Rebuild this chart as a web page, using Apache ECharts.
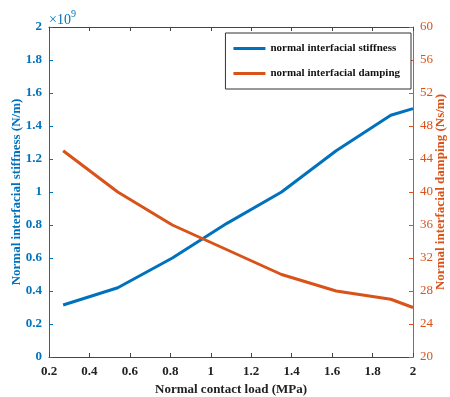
<!DOCTYPE html>
<html><head><meta charset="utf-8">
<script src="https://cdn.jsdelivr.net/npm/echarts@6/dist/echarts.min.js"></script>
<style>html,body{margin:0;padding:0;background:#fff}#c{width:450px;height:397px}</style>
</head><body><div id="c"></div>
<script>
const loads = [0.27, 0.54, 0.81, 1.08, 1.35, 1.62, 1.89, 2.0];
const stiffness = [0.315, 0.42, 0.60, 0.81, 1.00, 1.25, 1.465, 1.505]; // x1e9 N/m
const damping = [45, 40, 36, 33, 30, 28, 27, 26]; // Ns/m
const xTicks = [0.2, 2, 0.2];
const leftTicks = [0, 2, 0.2];
const rightTicks = [20, 60, 4];

const FONT = 'Liberation Serif';
const BLUE = '#0072BD', ORANGE = '#D95319';
const chart = echarts.init(document.getElementById('c'));
const fmt = v => String(Math.round(v * 10) / 10);
chart.setOption({
  animation: false,
  textStyle: { fontFamily: FONT },
  grid: { left: 49, right: 37, top: 27, bottom: 40, containLabel: false, outerBoundsMode: 'none' },
  legend: {
    right: 39, top: 33, orient: 'vertical', itemWidth: 32, itemHeight: 3, itemGap: 14,
    padding: [10, 11, 10, 8],
    borderColor: '#333', borderWidth: 1, backgroundColor: '#fff', borderRadius: 0,
    textStyle: { fontFamily: FONT, fontWeight: 'bold', fontSize: 11, color: '#111' },
    icon: 'rect',
    data: ['normal interfacial stiffness', 'normal interfacial damping']
  },
  xAxis: [{
    type: 'value', min: xTicks[0], max: xTicks[1], interval: xTicks[2],
    axisLine: { lineStyle: { color: '#444', width: 1 } },
    axisTick: { inside: true, length: 4, lineStyle: { color: '#444' } },
    splitLine: { show: false },
    axisLabel: { formatter: fmt, color: '#222', fontSize: 13, fontWeight: 'bold', fontFamily: FONT, margin: 8 },
    name: 'Normal contact load (MPa)', nameLocation: 'middle', nameGap: 23,
    nameTextStyle: { color: '#222', fontSize: 13, fontWeight: 'bold', fontFamily: FONT }
  }, {
    type: 'value', position: 'top', min: xTicks[0], max: xTicks[1], interval: xTicks[2],
    axisLine: { lineStyle: { color: '#444', width: 1 } },
    axisTick: { inside: true, length: 4, lineStyle: { color: '#444' } },
    axisLabel: { show: false }, splitLine: { show: false }
  }],
  yAxis: [{
    type: 'value', min: leftTicks[0], max: leftTicks[1], interval: leftTicks[2],
    axisLine: { show: true, lineStyle: { color: BLUE, width: 1 } },
    axisTick: { show: true, inside: true, length: 4, lineStyle: { color: BLUE } },
    splitLine: { show: false },
    axisLabel: { formatter: fmt, color: BLUE, fontSize: 13, fontWeight: 'bold', fontFamily: FONT, margin: 7 },
    name: 'Normal interfacial stiffness (N/m)', nameLocation: 'middle', nameGap: 26, nameRotate: 90,
    nameMoveOverlap: false,
    nameTextStyle: { color: BLUE, fontSize: 13, fontWeight: 'bold', fontFamily: FONT }
  }, {
    type: 'value', position: 'right', min: rightTicks[0], max: rightTicks[1], interval: rightTicks[2],
    axisLine: { show: true, lineStyle: { color: ORANGE, width: 1 } },
    axisTick: { show: true, inside: true, length: 4, lineStyle: { color: ORANGE } },
    splitLine: { show: false },
    axisLabel: { color: ORANGE, fontSize: 13, fontWeight: 'normal', fontFamily: FONT, margin: 7 },
    name: 'Normal interfacial damping (Ns/m)', nameLocation: 'middle', nameGap: 21, nameRotate: 90,
    nameMoveOverlap: false,
    nameTextStyle: { color: ORANGE, fontSize: 13, fontWeight: 'bold', fontFamily: FONT }
  }],
  graphic: [{
    type: 'text', left: 49, top: 9,
    style: {
      text: '{a|×10}{b|9}', rich: {
        a: { fontFamily: FONT, fontSize: 14, fill: BLUE, verticalAlign: 'bottom' },
        b: { fontFamily: FONT, fontSize: 10, fill: BLUE, verticalAlign: 'top', padding: [0, 0, 8, 0] }
      }
    }
  }],
  series: [{
    name: 'normal interfacial stiffness', type: 'line', yAxisIndex: 0, xAxisIndex: 0,
    data: loads.map((x, i) => [x, stiffness[i]]), showSymbol: false,
    lineStyle: { color: BLUE, width: 3 }, itemStyle: { color: BLUE }
  }, {
    name: 'normal interfacial damping', type: 'line', yAxisIndex: 1, xAxisIndex: 0,
    data: loads.map((x, i) => [x, damping[i]]), showSymbol: false,
    lineStyle: { color: ORANGE, width: 3 }, itemStyle: { color: ORANGE }
  }]
});
</script></body></html>
